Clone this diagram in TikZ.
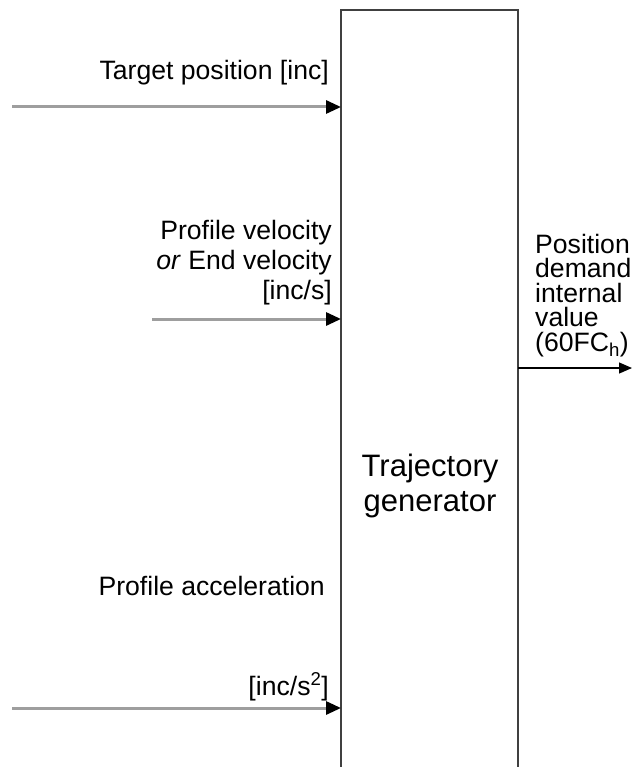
\documentclass[tikz,border=0pt]{standalone}
\usepackage{fontspec}
\setmainfont{Liberation Sans}
\usetikzlibrary{arrows.meta}
\begin{document}
\begin{tikzpicture}[x=1pt,y=-1pt,
  boxline/.style={draw=black!75,line width=2pt},
  inarrow/.style={draw=black!38,line width=3pt,-{Triangle[length=15pt,width=13pt,color=black]}},
  outarrow/.style={draw=black,line width=1.2pt,-{Triangle[length=13pt,width=11pt]}},
  lbl/.style={inner sep=0pt,font=\fontsize{26.6}{30}\selectfont},
  olbl/.style={inner sep=0pt,align=left,font=\fontsize{26.6}{24.5}\selectfont},
  genlbl/.style={inner sep=0pt,align=center,font=\fontsize{31}{35}\selectfont}]
\useasboundingbox (0,0) rectangle (634,767);
\node[inner sep=0pt,minimum width=177pt,minimum height=770pt,anchor=north west] (gen) at (341,10) {};
\draw[boxline] (gen.south west) -- (gen.north west) -- (gen.north east) -- (gen.south east);
\node[genlbl] (gentext) at (430,486) {Trajectory\\generator};
% inputs
\coordinate (s1) at (12,107);
\coordinate (s2) at (152,319);
\coordinate (s3) at (12,708);
\draw[inarrow] (s1) -- (s1 -| gen.west);
\draw[inarrow] (s2) -- (s2 -| gen.west);
\draw[inarrow] (s3) -- (s3 -| gen.west);
\node[lbl,anchor=base east] (l1) at (329,80) {Target position [inc]};
\node[lbl,anchor=north east,align=right] (l2) at (332,220.5) {Profile velocity\\\textit{or} End velocity\\{}[inc/s]};
\node[lbl,anchor=base east] (l3) at (325,595) {Profile acceleration};
\node[lbl,anchor=base east] (l4) at (329,695) {[inc/s\textsuperscript{2}]};
% output
\coordinate (o1) at (632,368);
\draw[outarrow] (gen.east |- o1) -- (o1);
\node[olbl,anchor=north west] (ol) at (535,234) {Position\\demand\\internal\\value\\(60FC\textsubscript{h})};
\end{tikzpicture}
\end{document}
